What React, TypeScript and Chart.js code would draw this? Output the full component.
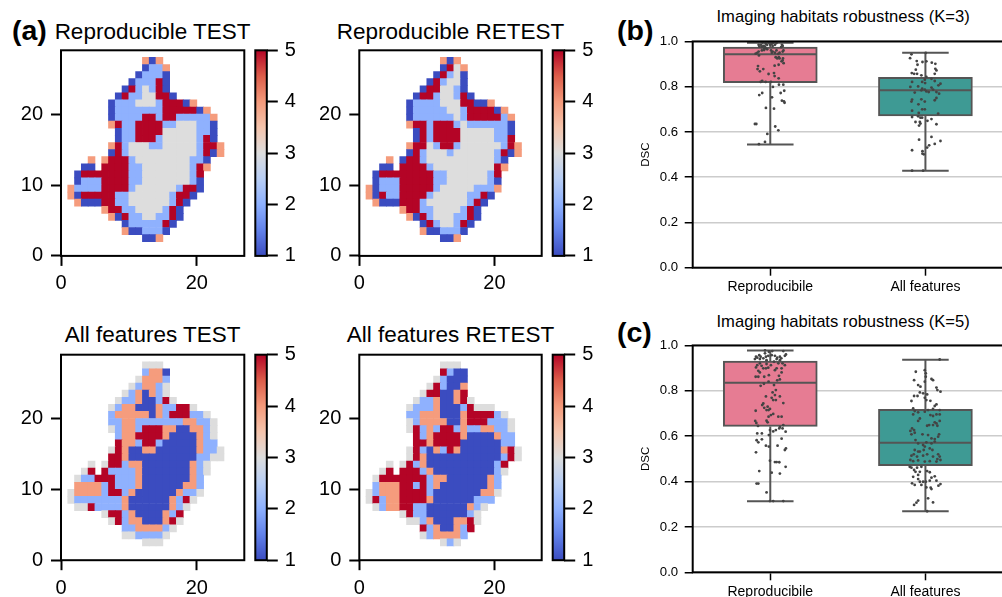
import React, { useEffect, useRef } from "react";
import { Chart, registerables } from "chart.js";

Chart.register(...registerables);
Chart.defaults.font.family = '"Liberation Sans", Arial, sans-serif';
Chart.defaults.color = "#000";

type Row = [number, string];

// each row: first column, then labels (1..5), from the top row (y=27) down to y=2
const reproducibleTest: Row[] = [
  [12, "414"],
  [12, "1224"],
  [11, "12221"],
  [10, "122251"],
  [9, "1523251"],
  [8, "152233551"],
  [7, "1 222 333 2 555 1 4"],
  [7, "1 2222222 55555 1 4"],
  [7, "1 2222 55 2 55 22222 4"],
  [7, "4 5 22 5555 22 333 22 1"],
  [8, "1 22 5555 33333 22 1"],
  [8, "1 22 555 2 33333 2 5 1"],
  [7, "4 5 2 333 22 33333 2 55 4"],
  [7, "1 5 2 3333333333 2 5 1 4"],
  [4, "4.4 555 2 33333333 22 1"],
  [3, "11.5555 22 3333333 2 5 4"],
  [2, "1 5555555 22 3333333 2 5"],
  [2, "1 222 5555 22 3333333 2 1"],
  [1, "4 2222 5555 2 333333 2 55 1"],
  [1, "4 1 55555 22 333333 2 55 1"],
  [2, "4 111 55 22 333333 2 5 1"],
  [6, "4 55 22 3333 2 5 1"],
  [7, "4 1 5 22 33 22 5 1"],
  [9, "1 22222 5 1"],
  [9, "4 11 222 1"],
  [12, "114"],
];
const reproducibleRetest: Row[] = [
  [12, "414"],
  [12, "1534"],
  [11, "15231"],
  [10, "1 5 2 33 1"],
  [9, "1 55 33 2 1"],
  [8, "1 55 2 33 2 5 1"],
  [7, "1 2222 333 55 11 4"],
  [7, "1 22222 33 2 5555 1 4"],
  [7, "1 222222 3 2 55555 2 4"],
  [7, "4 55 2 555 2 3 222222 1"],
  [8, "1 5 2 5555 33333 22 1"],
  [8, "1 5 2 5555 33333 22 5"],
  [7, "4 55 3 2 55 2 333333 2 5 4"],
  [7, "1 5 2 333 2 333333 2 5 1 4"],
  [4, "4.1 55 2 3333333333 2 1"],
  [3, "11.5555 2 333333333 5 4"],
  [2, "1 55555555 22 333333 2 5"],
  [2, "1 222 55555 22 333333 2 1"],
  [1, "4 1 222 55555 2 33333 222 4"],
  [1, "4 1 5 22 5555 2 33333 22 5 1"],
  [2, "4 111 555 2 333333 2 5 1"],
  [6, "4 55 22 3333 2 5 1"],
  [7, "4 1 5 2 333 22 5 1"],
  [9, "1 5 2 33 2 5 1"],
  [9, "4 11 222 1"],
  [12, "114"],
];
const allFeaturesTest: Row[] = [
  [12, "333"],
  [12, "2 44 1"],
  [11, "3 444 2"],
  [10, "3 2 44 2 3"],
  [9, "3 2 4 1 4 2 3"],
  [8, "3 22 4 11 2 5 3"],
  [7, "3 2 44 111 4 22 55 3"],
  [7, "2 44444 1 4 2 555 22 3"],
  [7, "22 44 2222222 44 22 3"],
  [7, "3 2 44 2 555 44 11 44 2 3"],
  [8, "2 44 5555 4 1111 4 2 3"],
  [8, "5 44 2 55 2 11111 4 22"],
  [7, "3 5 4 11 44 111111 4 22 3"],
  [7, "55 4 1111111111 22 33"],
  [4, "3.3 55 2 44 1111111 4 2 3"],
  [3, "3 5.5 2222 4 1111111 4 2 3"],
  [2, "3 22 555 222 4 1111111 4 2"],
  [2, "4444 2 5 222 4 111111 44 2"],
  [1, "3 4444 2 55 2 4 111111 4 22 3"],
  [1, "3 2222222 4 111111 4 2 5 3"],
  [2, "33 5 2222 4 111111 4 2 3"],
  [6, "3 55 2 4 1111 4 2 5"],
  [7, "3 5 2 44 111 4 5 3"],
  [9, "22 4444 2 3"],
  [9, "33 2222 3"],
  [12, "333"],
];
const allFeaturesRetest: Row[] = [
  [12, "333"],
  [12, "5 2 11"],
  [11, "3 2 111"],
  [10, "3 5 2 11 4"],
  [9, "3 55 11 4 5"],
  [8, "3 22 4 11 4 5 3"],
  [7, "3 222 4 111 2 5 333"],
  [7, "22 444 111 4 5555 2 3"],
  [7, "3 2 4444 11 4 555 222 3"],
  [7, "3 5 2 4 2 55 2 4 22 44 22 3"],
  [8, "5 2 4 5555 4 1111 4 22"],
  [8, "55 4 5555 111111 22"],
  [7, "3 5 2 1 4 2 5 4 111111 4 5 3"],
  [7, "3 5 4 11111111111 2 5 3"],
  [4, "3.3 5 2 4 1111111111 2 5"],
  [3, "3 5.555 2 4 111111111 2 3"],
  [2, "3 5555555 2 44 111111 4 2"],
  [2, "2 444 55 2 5 2 4 1111111 4 2"],
  [1, "3 2 444 5555 2 1111111 44 3"],
  [1, "3 5 2 44 5555 4 111111 222"],
  [2, "3 2 44 55 22 111111 4 2 3"],
  [6, "3 5 22 111111 2 3"],
  [7, "33 2 4 111 44 5 3"],
  [9, "5 2 4 11 4 2 5"],
  [9, "3 2 4444 2"],
  [12, "3 2 3"],
];

const heatXTicks = [0, 20];
const heatYTicks = [0, 10, 20];
const colorbarTicks = [1, 2, 3, 4, 5];
const boxCategories = ["Reproducibile", "All features"];
const dscTicks = [0, 0.2, 0.4, 0.6, 0.8, 1];

// low whisker, q1, median, q3, high whisker
const reproK3Box = [0.545, 0.818, 0.943, 0.975, 0.994];
const allK3Box = [0.429, 0.671, 0.784, 0.841, 0.95];
const reproK5Box = [0.313, 0.643, 0.836, 0.931, 0.978];
const allK5Box = [0.269, 0.47, 0.571, 0.718, 0.937];

// [jitter, DSC]
const reproK3Points: number[][] = [
  [-.073,.546],[-.034,.556],[-.019,.591],[.032,.624],[.052,.607],[-.099,.635],[-.09,.635],[-.028,.706],[.024,.703],[.075,.738],
  [.092,.729],[.088,.735],[.011,.753],[-.071,.763],[-.052,.772],[.067,.772],[.09,.782],[.017,.799],[.056,.809],[.084,.809],
  [-.062,.821],[-.052,.826],[-.03,.821],[.004,.821],[-.011,.856],[.024,.86],[.028,.847],[.054,.837],[-.079,.891],[-.082,.878],
  [-.067,.868],[-.045,.878],[.028,.893],[.054,.897],[.073,.912],[.086,.904],[.079,.916],[.082,.925],[-.094,.946],[-.073,.938],
  [-.084,.949],[-.054,.96],[-.039,.968],[-.05,.995],[-.03,.99],[-.01,.995],[.01,.99],[.02,.995],[.04,.993],[-.06,.985],
  [-.075,.985],[-.07,.977],[-.055,.975],[-.045,.98],[-.035,.978],[-.02,.985],[0,.985],[.015,.98],[.03,.985],[.075,.985],
  [.08,.98],[.07,.975],[-.03,.97],[-.04,.962],[-.02,.965],[.005,.96],[.015,.955],[.03,.95],[.04,.96],[.05,.945],
  [.06,.95],[.08,.955],[.085,.96],[.055,.93],[.045,.925],[.035,.93],[-.075,.955],[.06,.925],[.01,.95],
];
const allK3Points: number[][] = [
  [-.086,.429],[-.015,.429],[-.019,.504],[-.011,.501],[-.019,.515],[-.086,.519],[.011,.531],[.024,.541],[.06,.547],[.097,.56],
  [.039,.578],[-.041,.566],[.071,.634],[.013,.649],[.039,.657],[-.064,.644],[-.036,.644],[-.041,.628],[-.032,.637],[-.086,.666],
  [-.047,.669],[-.032,.663],[-.021,.663],[.082,.681],[-.086,.694],[-.043,.684],[-.021,.7],[-.004,.7],[-.045,.722],[-.09,.734],
  [-.086,.743],[-.026,.744],[-.004,.734],[.06,.74],[.071,.75],[.088,.769],[.071,.776],[-.069,.774],[-.026,.784],[.006,.779],
  [.021,.776],[.049,.787],[-.097,.799],[-.047,.801],[-.021,.791],[-.004,.787],[.039,.796],[.097,.813],[.084,.806],[-.086,.821],
  [-.021,.821],[-.002,.816],[.06,.825],[.039,.835],[.006,.843],[-.088,.86],[-.073,.857],[-.054,.857],[-.026,.85],[-.004,.831],
  [.06,.857],[.071,.872],[.064,.879],[-.062,.875],[-.056,.913],[-.051,.897],[-.019,.909],[.006,.912],[.041,.906],[.064,.901],
  [-.099,.926],[-.09,.943],[.002,.949],
];
const reproK5Points: number[][] = [
  [-.002,.314],[.019,.314],[.084,.314],[-.024,.352],[-.088,.391],[-.077,.391],[-.071,.446],[.009,.439],[.062,.435],[.099,.465],
  [.03,.486],[.041,.486],[.058,.485],[-.002,.492],[-.092,.529],[.094,.539],[.101,.546],[.047,.558],[-.028,.558],[-.009,.554],
  [.073,.589],[-.088,.582],[-.077,.573],[-.054,.586],[-.084,.612],[-.054,.612],[-.009,.605],[-.002,.627],[.019,.621],[.036,.627],
  [.058,.634],[.079,.634],[.099,.62],[-.079,.645],[.084,.649],[.062,.64],[-.097,.667],[-.09,.658],[-.024,.668],[-.017,.661],
  [.052,.686],[.073,.686],[-.011,.686],[.004,.693],[.019,.698],[-.024,.715],[-.011,.715],[-.094,.712],[-.039,.725],[-.017,.73],
  [-.002,.72],[-.052,.737],[-.045,.744],[.084,.746],[.019,.759],[.036,.759],[.062,.775],[-.028,.775],[.009,.769],[.03,.781],
  [.015,.793],[.036,.803],[-.062,.822],[-.041,.831],[.024,.825],[.062,.85],[-.011,.84],[-.094,.862],[-.077,.862],[-.067,.881],
  [-.039,.862],[-.009,.869],[.045,.846],[.056,.866],[.073,.881],[.03,.891],[-.077,.888],[-.045,.899],[-.028,.899],[-.013,.902],
  [.041,.899],[.094,.913],[.073,.899],[-.092,.903],[-.084,.913],[-.067,.921],[-.056,.91],[-.024,.918],[.004,.913],[.024,.928],
  [.052,.921],[.079,.921],[-.099,.94],[-.084,.946],[-.067,.94],[-.045,.943],[-.028,.95],[-.013,.954],[.009,.957],[.03,.954],
  [.045,.946],[.062,.935],[.094,.954],[.101,.96],[-.071,.957],[-.034,.965],[-.009,.972],[.013,.975],[-.034,.978],[.062,.95],
  [.071,.943],[-.092,.95],[-.062,.95],[.084,.975],[-.024,.935],[.041,.94],
];
const allK5Points: number[][] = [
  [.011,.269],[-.073,.297],[-.058,.307],[-.047,.316],[.017,.326],[.049,.308],[.039,.367],[.034,.373],[.006,.374],[-.026,.385],
  [-.086,.392],[-.069,.385],[.084,.382],[.097,.389],[-.079,.421],[-.047,.411],[-.036,.399],[-.015,.399],[.002,.399],[.028,.404],
  [.06,.423],[.039,.417],[-.047,.429],[.071,.404],[-.064,.443],[-.09,.461],[-.054,.461],[-.036,.443],[.011,.446],[-.026,.465],
  [.028,.441],[-.073,.451],[-.101,.465],[-.097,.495],[-.079,.49],[-.047,.493],[-.004,.488],[.028,.49],[.071,.488],[.097,.495],
  [.077,.499],[-.09,.514],[-.075,.52],[-.054,.51],[-.036,.532],[-.015,.514],[.011,.52],[.049,.51],[.045,.539],[.082,.52],
  [.092,.51],[-.069,.539],[-.047,.532],[-.004,.554],[-.011,.539],[.028,.546],[-.064,.583],[-.047,.568],[-.015,.561],[.006,.573],
  [.039,.568],[.06,.576],[.082,.598],[.088,.608],[.06,.587],[.039,.59],[.017,.605],[-.019,.608],[-.09,.608],[-.069,.615],
  [-.097,.623],[-.086,.634],[-.073,.627],[.011,.646],[.024,.649],[.06,.661],[.077,.646],[.092,.667],[.049,.649],[.071,.656],
  [-.047,.667],[-.036,.678],[-.079,.696],[.032,.693],[.049,.689],[.071,.696],[.092,.696],[-.047,.705],[-.004,.708],[.017,.715],
  [-.079,.722],[-.069,.711],[.049,.72],[.092,.715],[.071,.74],[.06,.733],[-.09,.755],[.006,.759],[.032,.756],[-.073,.777],
  [-.051,.777],[-.036,.793],[-.015,.789],[.011,.784],[-.004,.769],[.097,.796],[.071,.814],[.077,.803],[-.047,.825],[-.032,.818],
  [.039,.852],[.049,.847],[-.073,.847],[-.004,.84],[.002,.862],[-.062,.884],[-.004,.891],[.002,.877],[.092,.938],
];

const labelColors: Record<string, string> = { "1": "#3b4cc0", "2": "#8fb1fe", "3": "#dddddd", "4": "#f59c7d", "5": "#b40426" };
const colorbarStops = ["#3b4cc0", "#6282ea", "#8db0fe", "#b8cef5", "#dddddd", "#f5c4ac", "#f49a7b", "#dc5d4a", "#b40426"];
const INK = "#555555";

const framePlugin = {
  id: "frame",
  afterDraw(chart: any) {
    const { ctx, chartArea: a } = chart;
    ctx.save();
    ctx.strokeStyle = "#000";
    ctx.lineWidth = 2;
    ctx.strokeRect(a.left, a.top, a.right - a.left, a.bottom - a.top);
    ctx.restore();
  },
};

const fixedTicks = (values: number[]) => (axis: any) => {
  axis.ticks = values.map((value) => ({ value }));
};

interface Box { left: number; right: number; top: number; bottom: number }
interface Spec { canvas: { left: number; top: number; width: number; height: number }; config: any }

function heatSpec(rows: Row[], b: Box): Spec {
  const cl = Math.floor(b.left) - 60;
  const ct = Math.floor(b.top) - 30;
  const w = Math.ceil(b.right) + 3 - cl;
  const h = Math.ceil(b.bottom) + 36 - ct;
  const cells: any[] = [];
  const colors: string[] = [];
  rows.forEach(([start, text], i) => {
    const y = 27 - i;
    text.replace(/ /g, "").split("").forEach((ch, j) => {
      if (ch === ".") return;
      cells.push({ x: start + j + 0.5, y: [y, y + 1] });
      colors.push(labelColors[ch]);
    });
  });
  const tickFont = { size: 20 };
  return {
    canvas: { left: cl, top: ct, width: w, height: h },
    config: {
      type: "bar",
      data: { datasets: [{ data: cells, backgroundColor: colors, barThickness: (b.right - b.left) / 27 + 0.1, borderWidth: 0 }] },
      options: {
        responsive: false,
        animation: false,
        layout: { padding: { top: b.top - ct, right: cl + w - b.right, left: 0, bottom: 0 } },
        plugins: { legend: { display: false }, tooltip: { enabled: false } },
        scales: {
          x: {
            type: "linear", min: 0, max: 27, offset: false,
            afterBuildTicks: fixedTicks(heatXTicks),
            afterFit: (s: any) => { s.height = ct + h - b.bottom; },
            grid: { offset: false, drawOnChartArea: false, tickLength: 10, tickWidth: 2, tickColor: "#000" },
            border: { display: false },
            ticks: { font: tickFont, padding: 6, maxRotation: 0, color: "#000" },
          },
          y: {
            type: "linear", min: 0, max: 29,
            afterBuildTicks: fixedTicks(heatYTicks),
            afterFit: (s: any) => { s.width = b.left - cl; },
            grid: { drawOnChartArea: false, tickLength: 10, tickWidth: 2, tickColor: "#000" },
            border: { display: false },
            ticks: { font: tickFont, padding: 8, color: "#000" },
          },
        },
      },
      plugins: [framePlugin],
    },
  };
}

function colorbarSpec(b: Box): Spec {
  const cl = Math.floor(b.left) - 2;
  const ct = Math.floor(b.top) - 30;
  const axisW = 42;
  const w = Math.ceil(b.right - cl + axisW);
  const h = Math.ceil(b.bottom) + 30 - ct;
  return {
    canvas: { left: cl, top: ct, width: w, height: h },
    config: {
      type: "bar",
      data: {
        labels: [""],
        datasets: [{
          data: [[colorbarTicks[0], colorbarTicks[colorbarTicks.length - 1]]],
          barPercentage: 1,
          categoryPercentage: 1,
          borderWidth: 0,
          backgroundColor: (c: any) => {
            const a = c.chart.chartArea;
            if (!a) return colorbarStops[0];
            const g = c.chart.ctx.createLinearGradient(0, a.bottom, 0, a.top);
            colorbarStops.forEach((s, i) => g.addColorStop(i / (colorbarStops.length - 1), s));
            return g;
          },
        }],
      },
      options: {
        responsive: false,
        animation: false,
        layout: { padding: { left: b.left - cl, top: b.top - ct, bottom: ct + h - b.bottom, right: w - (b.right - cl) - axisW } },
        plugins: { legend: { display: false }, tooltip: { enabled: false } },
        scales: {
          x: { display: false },
          y: {
            position: "right", min: 1, max: 5,
            afterBuildTicks: fixedTicks(colorbarTicks),
            afterFit: (s: any) => { s.width = axisW; },
            grid: { drawOnChartArea: false, tickLength: 11, tickWidth: 2, tickColor: "#000" },
            border: { display: false },
            ticks: { font: { size: 20 }, padding: 7, color: "#000" },
          },
        },
      },
      plugins: [framePlugin],
    },
  };
}

function boxSpec(stats: number[][], points: number[][][], b: Box): Spec {
  const cl = 639;
  const ct = Math.floor(b.top) - 14;
  const w = Math.ceil(b.right) + 3 - cl;
  const h = Math.ceil(b.bottom) + 30 - ct;
  const line = (pts: number[][]) => ({
    type: "scatter", showLine: true, order: 1, pointRadius: 0, borderColor: INK, borderWidth: 2,
    data: pts.map(([x, y]) => ({ x, y })),
  });
  const datasets: any[] = [{
    type: "bar", order: 2, barThickness: 94, borderColor: INK, borderWidth: 2, borderSkipped: false,
    backgroundColor: ["#e67c93", "#3e9a94"],
    data: stats.map((s, i) => ({ x: i, y: [s[1], s[3]] })),
  }];
  stats.forEach((s, i) => {
    const [low, q1, med, q3, high] = s;
    datasets.push(line([[i, low], [i, q1]]), line([[i, q3], [i, high]]));
    datasets.push(line([[i - 0.15, low], [i + 0.15, low]]), line([[i - 0.15, high], [i + 0.15, high]]));
    datasets.push(line([[i - 0.3, med], [i + 0.3, med]]));
    datasets.push({
      type: "scatter", order: 0, pointRadius: 1.4, pointBorderWidth: 0, backgroundColor: "#444444", pointBackgroundColor: "#444444",
      data: points[i].map(([j, v]) => ({ x: i + j, y: v })),
    });
  });
  return {
    canvas: { left: cl, top: ct, width: w, height: h },
    config: {
      type: "bar",
      data: { datasets },
      options: {
        responsive: false,
        animation: false,
        layout: { padding: { top: b.top - ct, right: cl + w - b.right, left: 0, bottom: 0 } },
        plugins: { legend: { display: false }, tooltip: { enabled: false } },
        scales: {
          x: {
            type: "linear", min: -0.5, max: 1.5, offset: false,
            afterBuildTicks: fixedTicks([0, 1]),
            afterFit: (s: any) => { s.height = ct + h - b.bottom; },
            grid: { offset: false, drawOnChartArea: false, tickLength: 8, tickWidth: 1.5, tickColor: "#000" },
            border: { display: false },
            ticks: { font: { size: 14 }, padding: 3, maxRotation: 0, autoSkip: false, color: "#000", callback: (v: number) => boxCategories[v] },
          },
          y: {
            type: "linear", min: 0, max: 1,
            afterBuildTicks: fixedTicks(dscTicks),
            afterFit: (s: any) => { s.width = b.left - cl; },
            grid: { color: "#cccccc", lineWidth: 1.5, tickLength: 8, tickWidth: 1.5, tickColor: "#000" },
            border: { display: false },
            title: { display: true, text: "DSC", font: { size: 11.5 }, padding: 0, color: "#000" },
            ticks: { font: { size: 13.2 }, padding: 6.5, color: "#000", callback: (v: number) => v.toFixed(1) },
          },
        },
      },
      plugins: [framePlugin],
    },
  };
}

const TOP_ROW = { top: 50.3, bottom: 255.9 };
const BOTTOM_ROW = { top: 354.7, bottom: 560.2 };
const LEFT_COL = { left: 61, right: 244.3 };
const RIGHT_COL = { left: 359.3, right: 541.7 };

const specs: Spec[] = [
  heatSpec(reproducibleTest, { ...LEFT_COL, ...TOP_ROW }),
  heatSpec(reproducibleRetest, { ...RIGHT_COL, ...TOP_ROW }),
  heatSpec(allFeaturesTest, { ...LEFT_COL, ...BOTTOM_ROW }),
  heatSpec(allFeaturesRetest, { ...RIGHT_COL, ...BOTTOM_ROW }),
  colorbarSpec({ left: 255.3, right: 266.8, ...TOP_ROW }),
  colorbarSpec({ left: 552.7, right: 564.2, ...TOP_ROW }),
  colorbarSpec({ left: 255.3, right: 266.8, ...BOTTOM_ROW }),
  colorbarSpec({ left: 552.7, right: 564.2, ...BOTTOM_ROW }),
  boxSpec([reproK3Box, allK3Box], [reproK3Points, allK3Points], { left: 692.7, right: 1004, top: 41, bottom: 267.7 }),
  boxSpec([reproK5Box, allK5Box], [reproK5Points, allK5Points], { left: 692.7, right: 1004, top: 345.3, bottom: 572.3 }),
];

const textStyle: React.CSSProperties = { position: "absolute", fontFamily: '"Liberation Sans", Arial, sans-serif', color: "#000", whiteSpace: "nowrap", lineHeight: 1 };
const heatTitle = (text: string, center: number, top: number) => (
  <div style={{ ...textStyle, left: center - 150, width: 300, textAlign: "center", top, fontSize: 22.5 }}>{text}</div>
);

export default function App() {
  const host = useRef<HTMLDivElement>(null);
  useEffect(() => {
    const charts: Chart[] = [];
    const canvases: HTMLCanvasElement[] = [];
    specs.forEach((s) => {
      const c = document.createElement("canvas");
      c.width = s.canvas.width;
      c.height = s.canvas.height;
      c.style.cssText = `position:absolute;left:${s.canvas.left}px;top:${s.canvas.top}px;width:${s.canvas.width}px;height:${s.canvas.height}px`;
      host.current!.appendChild(c);
      canvases.push(c);
      charts.push(new Chart(c, s.config));
    });
    return () => {
      charts.forEach((c) => c.destroy());
      canvases.forEach((c) => c.remove());
    };
  }, []);
  return (
    <div ref={host} style={{ position: "fixed", left: 0, top: 0, width: 1002, height: 597, overflow: "hidden", background: "#fff" }}>
      <div style={{ ...textStyle, left: 12, top: 15.5, fontSize: 28.5, fontWeight: "bold" }}>(a)</div>
      <div style={{ ...textStyle, left: 617, top: 15.5, fontSize: 28.5, fontWeight: "bold" }}>(b)</div>
      <div style={{ ...textStyle, left: 617, top: 318, fontSize: 28.5, fontWeight: "bold" }}>(c)</div>
      {heatTitle("Reproducible TEST", 152.6, 21)}
      {heatTitle("Reproducible RETEST", 450.5, 21)}
      {heatTitle("All features TEST", 152.6, 324)}
      {heatTitle("All features RETEST", 450.5, 324)}
      <div style={{ ...textStyle, left: 716.5, top: 9, fontSize: 16.6 }}>Imaging habitats robustness (K=3)</div>
      <div style={{ ...textStyle, left: 716.5, top: 314, fontSize: 16.6 }}>Imaging habitats robustness (K=5)</div>
    </div>
  );
}
